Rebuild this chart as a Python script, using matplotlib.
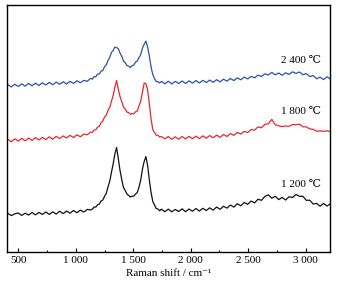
import numpy as np
import matplotlib
matplotlib.use("Agg")
import matplotlib.pyplot as plt
from matplotlib.ticker import FixedLocator, FixedFormatter, MultipleLocator

plt.rcParams["font.family"] = ["Liberation Serif", "DejaVu Serif", "DejaVu Sans"]

# sample grid of the spectra (cm-1): coarse outside the D/G band, finer inside
shift = np.r_[np.arange(410, 1131, 30), np.arange(1145, 1746, 15), np.arange(1775, 3216, 30)]

# intensities (a.u., offset for stacking)
int_1200 = [
    38.6, 36.4, 38.2, 39.0, 36.6, 38.8, 37.0, 39.5, 37.2, 39.6, 37.6, 40.0, 37.6,
    40.2, 38.0, 40.8, 38.4, 41.0, 38.8, 41.5, 39.3, 41.9, 40.0, 42.6, 42.0,
    43.0, 45.0, 45.0, 47.3, 48.0, 51.0, 52.0, 55.6, 58.5, 65.0, 70.5, 79.5, 88.0,
    98.0, 104.5, 93.5, 81.5, 72.5, 64.5, 61.5, 58.0, 56.6, 55.0, 55.8, 56.0, 58.0,
    59.5, 65.0, 72.0, 83.0, 90.5, 95.5, 86.5, 72.0, 59.5, 50.5, 47.0, 43.5, 43.0,
    41.2, 42.8,
    40.3, 42.9, 40.2, 42.6, 40.5, 43.2, 40.3, 43.0, 40.8, 43.5, 41.0, 43.7, 41.5,
    44.2, 41.9, 45.0, 42.7, 45.8, 43.9, 47.0, 44.9, 48.3, 46.2, 49.6, 47.7, 51.0,
    49.2, 52.8, 51.7, 55.6, 57.2, 53.8, 55.8, 52.4, 54.6, 52.0, 55.3, 54.5, 57.6,
    55.7, 55.8, 51.7, 51.8, 48.0, 48.6, 45.8, 48.6, 46.0, 48.3,
]
int_1800 = [
    112.7, 110.3, 113.2, 110.9, 113.7, 111.3, 113.9, 111.7, 114.5, 112.1, 114.7,
    112.5, 115.2, 112.9, 115.7, 113.5, 116.1, 114.1, 116.7, 114.5, 117.2, 115.3,
    118.0, 117.3, 120.0,
    119.7, 122.0, 122.3, 125.0, 125.7, 129.3, 131.0, 135.0, 137.0, 141.5, 144.5,
    150.5, 156.5, 165.0, 171.5, 163.0, 155.5, 150.5, 145.0, 143.0, 140.0, 139.5,
    137.7, 138.5, 138.3, 140.3, 141.0, 146.0, 151.0, 160.0, 169.0, 168.5, 162.0,
    148.0, 133.0, 122.5, 119.5, 116.8, 116.7, 115.0, 115.5,
    113.3, 115.5, 112.7, 115.2, 112.9, 115.6, 113.1, 115.7, 113.3, 115.9, 113.5,
    116.2, 113.9, 116.5, 114.3, 116.9, 114.7, 117.5, 115.6, 118.5, 116.7, 119.6,
    118.1, 120.7, 119.5, 122.5, 121.9, 125.2, 124.3, 127.7, 128.3, 132.7, 127.3,
    126.2, 125.5, 126.0, 125.8, 127.5, 127.3, 127.9, 125.3, 125.2, 123.1, 122.7,
    120.8, 121.2, 120.7, 121.3, 120.5,
]
int_2400 = [
    167.5, 165.1, 167.9, 165.6, 168.2, 165.9, 168.7, 166.3, 168.9, 166.6, 169.3,
    167.1, 169.7, 167.3, 170.0, 167.8, 170.3, 168.1, 170.7, 168.7, 171.3, 169.3,
    171.7, 170.8, 173.7,
    173.0, 175.5, 175.3, 178.0, 178.1, 181.0, 181.5, 185.3, 187.0, 191.5, 194.5,
    199.5, 201.5, 205.0, 204.5, 203.5, 199.0, 196.0, 191.0, 189.5, 186.5, 186.0,
    184.5, 186.5, 187.0, 190.0, 191.0, 194.5, 197.5, 204.0, 208.0, 211.0, 205.0,
    196.0, 185.0, 177.5, 173.5, 170.5, 170.5, 169.1, 170.7,
    168.3, 170.8, 168.2, 170.7, 168.5, 171.1, 168.6, 171.2, 168.9, 171.5, 169.1,
    171.7, 169.5, 172.0, 169.8, 172.4, 170.2, 172.9, 170.9, 173.6, 171.5, 174.2,
    172.3, 175.0, 173.1, 175.7, 174.3, 176.9, 175.6, 178.3, 177.1, 179.7, 177.2,
    179.1, 176.8, 179.3, 177.7, 180.3, 178.6, 180.1, 177.3, 178.5, 175.5, 176.5,
    173.3, 174.9, 172.5, 175.2, 173.1,
]

labels = ["1 200 \u2103", "1 800 \u2103", "2 400 \u2103"]
label_y = [67.7, 140.5, 191.5]
xticks = [500, 1000, 1500, 2000, 2500, 3000]
xtick_labels = ["500", "1 000", "1 500", "2 000", "2 500", "3 000"]

fig = plt.figure(figsize=(3.38, 2.83), dpi=100)
ax = fig.add_axes([0.0207, 0.1095, 0.9556, 0.8735])

colors = ["#111111", "#e8262a", "#2b52a6"]
for y, c in zip([int_1200, int_1800, int_2400], colors):
    ax.plot(shift, y, color=c, lw=0.9)

for txt, ty in zip(labels, label_y):
    ax.text(3135, ty, txt, ha="right", va="center", fontsize=8)

ax.set_xlim(402, 3211)
ax.set_ylim(0, 247.3)
ax.xaxis.set_major_locator(FixedLocator(xticks))
ax.xaxis.set_major_formatter(FixedFormatter(xtick_labels))
ax.xaxis.set_minor_locator(MultipleLocator(250))
ax.tick_params(axis="x", which="major", direction="in", length=3, width=0.8,
               labelsize=8, pad=3, top=False)
ax.tick_params(axis="x", which="minor", direction="in", length=1.5, width=0.8, top=False)
ax.set_yticks([])
for s in ax.spines.values():
    s.set_linewidth(1.0)
ax.set_xlabel("Raman shift / cm\u207b\u00b9", fontsize=8, labelpad=2.5)

fig.savefig("out.png", dpi=100)
